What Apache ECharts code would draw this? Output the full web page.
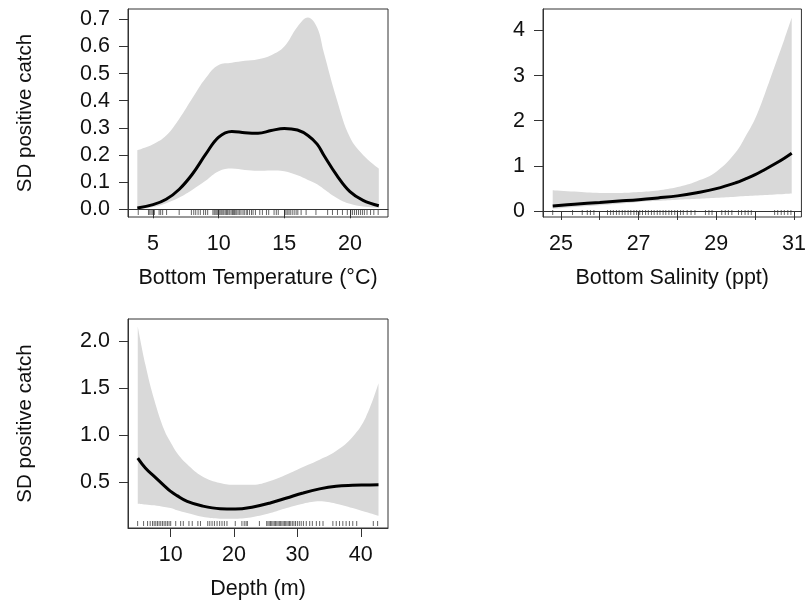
<!DOCTYPE html>
<html>
<head>
<meta charset="utf-8">
<script src="https://cdn.jsdelivr.net/npm/echarts@6.0.0/dist/echarts.min.js"></script>
<style>
  html, body { margin: 0; padding: 0; background: #fff; }
  #chart { width: 809px; height: 601px; }
</style>
</head>
<body>
<div id="chart"></div>
<script>
// Bottom temperature panel
const tempX = [3.8, 5, 6, 7, 8, 9, 10, 11, 12, 13, 14, 15, 16, 16.8, 17.5, 18, 19, 20, 21, 22.2]
const tempFit = [0.005, 0.017, 0.037, 0.074, 0.13, 0.202, 0.266, 0.287, 0.282, 0.28, 0.29, 0.298, 0.292, 0.272, 0.24, 0.2, 0.125, 0.065, 0.033, 0.013]
const tempLower = [0.0, 0.008, 0.022, 0.043, 0.072, 0.105, 0.14, 0.15, 0.145, 0.142, 0.143, 0.14, 0.125, 0.108, 0.092, 0.075, 0.042, 0.02, 0.01, 0.005]
const tempUpper = [0.218, 0.24, 0.272, 0.334, 0.41, 0.483, 0.532, 0.54, 0.547, 0.553, 0.568, 0.6, 0.673, 0.707, 0.67, 0.58, 0.405, 0.265, 0.2, 0.15]
const tempRug = [3.87, 4.65, 4.75, 4.85, 4.98, 5.1, 5.46, 5.58, 5.73, 6.03, 6.99, 7.92, 8.1, 8.25, 8.43, 8.6, 8.85, 9.0, 9.16,
  9.56, 9.65, 9.72, 9.8, 9.88, 9.95, 10.03, 10.1, 10.18, 10.25, 10.33, 10.4, 10.5, 10.6, 10.68, 10.78, 10.85, 10.95, 11.05,
  11.12, 11.2, 11.3, 11.38, 11.48, 11.6, 11.7, 11.85, 11.95, 12.1, 12.2, 12.35, 12.5, 12.62, 12.8,
  13.13, 13.33, 13.64, 13.81, 14.22, 14.39, 14.54, 15.02, 15.12, 15.22, 15.35, 15.45, 15.6, 15.75, 15.9, 16.03,
  16.28, 16.66, 17.41, 18.3, 18.67, 19.05, 19.43, 19.8, 20.06, 20.2, 20.35, 20.5, 20.65, 20.8, 20.95, 21.1, 21.3, 21.57, 21.82, 22.15]
const tempXTicks = [5, 10, 15, 20]
const tempYTicks = [0, 0.1, 0.2, 0.3, 0.4, 0.5, 0.6, 0.7]

// Bottom salinity panel
const salX = [24.79, 25.35, 26, 26.5, 27, 27.5, 28, 28.5, 29, 29.5, 29.75, 30, 30.25, 30.5, 30.75, 30.94]
const salFit = [0.11, 0.15, 0.19, 0.22, 0.25, 0.29, 0.335, 0.405, 0.495, 0.625, 0.71, 0.805, 0.92, 1.04, 1.17, 1.28]
const salLower = [0.05, 0.09, 0.127, 0.16, 0.2, 0.225, 0.248, 0.27, 0.295, 0.318, 0.33, 0.343, 0.355, 0.367, 0.378, 0.386]
const salUpper = [0.46, 0.43, 0.4, 0.4, 0.42, 0.455, 0.53, 0.66, 0.87, 1.3, 1.65, 2.05, 2.6, 3.2, 3.8, 4.28]
const salRug = [24.79, 25.3, 25.55, 25.68, 25.76, 25.85,
  26.2, 26.28, 26.35, 26.43, 26.5, 26.58, 26.65, 26.73, 26.8, 26.88, 26.95, 27.03, 27.1, 27.18, 27.25, 27.33, 27.4,
  27.48, 27.55, 27.63, 27.7, 27.78, 27.85, 27.93, 28.0, 28.08, 28.15, 28.25, 28.35, 28.45,
  28.72, 28.81, 28.89, 29.14, 29.23, 29.31, 29.4, 29.57, 29.65, 29.74, 29.82, 29.9, 30.5, 30.58, 30.67, 30.75, 30.84, 30.92]
const salXTicks = [25, 26, 27, 28, 29, 30, 31]
const salXLabels = [25, 27, 29, 31]
const salYTicks = [0, 1, 2, 3, 4]

// Depth panel
const depthX = [4.8, 6, 7.4, 9, 10, 11, 12.6, 15, 17.8, 20.2, 23, 25.7, 28.3, 30.9, 33.5, 36.1, 38.7, 40.8, 42.8]
const depthFit = [0.755, 0.65, 0.56, 0.46, 0.4, 0.355, 0.294, 0.245, 0.216, 0.213, 0.235, 0.277, 0.33, 0.384, 0.427, 0.455, 0.465, 0.468, 0.47]
const depthLower = [0.27, 0.262, 0.252, 0.235, 0.224, 0.2, 0.17, 0.13, 0.11, 0.11, 0.128, 0.17, 0.224, 0.27, 0.295, 0.27, 0.224, 0.18, 0.14]
const depthUpper = [2.155, 1.75, 1.376, 1.05, 0.92, 0.81, 0.69, 0.56, 0.49, 0.47, 0.47, 0.51, 0.58, 0.66, 0.737, 0.83, 0.98, 1.19, 1.55]
const depthRug = [4.78, 5.72, 6.35, 6.76, 7.13, 7.39, 7.65, 7.91, 8.17, 8.43, 8.7, 8.96, 9.22, 9.48, 9.74, 10.0, 10.79, 11.57,
  11.99, 12.88, 13.4, 14.29, 14.7, 15.85, 16.17, 16.53, 16.9, 17.32, 17.73, 18.1, 18.47, 18.88, 20.19, 21.24, 21.6, 21.9,
  22.1, 24.0, 25.15, 25.35, 25.55, 25.75, 25.95, 26.15, 26.35, 26.55, 26.75, 26.95, 27.15, 27.35, 27.55, 27.75, 27.95,
  28.15, 28.35, 28.55, 28.75, 28.95, 29.2, 29.45, 29.7, 30.0, 30.3, 30.6, 30.95, 31.4, 31.94, 32.36, 32.99, 33.51,
  34.04, 35.6, 36.13, 36.65, 37.17, 37.69, 38.21, 38.74, 39.36, 41.98, 42.66]
const depthXTicks = [10, 20, 30, 40]
const depthYTicks = [0.5, 1.0, 1.5, 2.0]

const yName = 'SD positive catch'
const font = 'Liberation Sans, Arial, sans-serif'
const fs = 21.5

function xAxisCfg(idx, min, max, ticks, labels, name) {
  return {
    type: 'value', gridIndex: idx, min, max, z: 5,
    name, nameLocation: 'middle', nameGap: 50,
    nameTextStyle: { fontFamily: font, fontSize: fs, color: '#111' },
    splitLine: { show: false },
    axisLine: { show: true, lineStyle: { color: '#333', width: 1 } },
    axisTick: { show: true, inside: false, length: 9, customValues: ticks, lineStyle: { color: '#333' } },
    axisLabel: { customValues: labels, margin: 16, fontFamily: font, fontSize: fs, color: '#111' }
  }
}

function yAxisCfg(idx, min, max, ticks, digits, name) {
  return {
    type: 'value', gridIndex: idx, min, max, z: 5,
    name, nameLocation: 'middle', nameGap: 92, nameRotate: 90,
    nameTextStyle: { fontFamily: font, fontSize: 20.5, color: '#111' },
    splitLine: { show: false },
    axisLine: { show: true, lineStyle: { color: '#333', width: 1 } },
    axisTick: { show: true, inside: false, length: 9, customValues: ticks, lineStyle: { color: '#333' } },
    axisLabel: { customValues: ticks, margin: 18, fontFamily: font, fontSize: fs, color: '#111',
      formatter: v => Number(v).toFixed(digits) }
  }
}

// 置信带：下界 + (上界-下界) 堆叠。y 放在第 0 维，这样堆叠的是 y 而不是 x
function bandSeries(idx, xs, lower, upper) {
  const common = { type: 'line', xAxisIndex: idx, yAxisIndex: idx, stack: 'band' + idx,
    encode: { x: 1, y: 0 }, smooth: 0.4, symbol: 'none', lineStyle: { opacity: 0 }, silent: true, z: 1 }
  return [
    { ...common, data: xs.map((x, i) => [lower[i], x]) },
    { ...common, data: xs.map((x, i) => [upper[i] - lower[i], x]),
      areaStyle: { color: '#d9d9d9', opacity: 1 } }
  ]
}

function fitSeries(idx, xs, fit) {
  return { type: 'line', xAxisIndex: idx, yAxisIndex: idx, data: xs.map((x, i) => [x, fit[i]]), smooth: 0.4,
    symbol: 'none', lineStyle: { color: '#000', width: 3 }, silent: true, z: 3 }
}

// 地毯图短线，画在坐标框底边上方
function rugSeries(idx, rug, ymin) {
  return {
    type: 'custom', xAxisIndex: idx, yAxisIndex: idx, silent: true, z: 2,
    data: rug.map(v => [v, ymin]), encode: { x: 0, y: 1 },
    renderItem: (params, api) => {
      const p = api.coord([api.value(0), api.value(1)])
      return { type: 'line', shape: { x1: p[0], y1: p[1] - 2, x2: p[0], y2: p[1] - 7 },
        style: { stroke: '#666', lineWidth: 1 } }
    }
  }
}

const gridBase = { show: true, borderColor: '#333', borderWidth: 1, backgroundColor: 'transparent', containLabel: false }

const chart = echarts.init(document.getElementById('chart'))
chart.setOption({
  animation: false,
  grid: [
    { ...gridBase, left: 128, top: 9, width: 260, height: 208 },
    { ...gridBase, left: 543, top: 9, width: 261, height: 208 },
    { ...gridBase, left: 128, top: 319, width: 260, height: 209 }
  ],
  xAxis: [
    xAxisCfg(0, 3.09, 22.9, tempXTicks, tempXTicks, 'Bottom Temperature (°C)'),
    xAxisCfg(1, 24.54, 31.19, salXTicks, salXLabels, 'Bottom Salinity (ppt)'),
    xAxisCfg(2, 3.26, 44.3, depthXTicks, depthXTicks, 'Depth (m)')
  ],
  yAxis: [
    yAxisCfg(0, -0.0284, 0.738, tempYTicks, 1, yName),
    yAxisCfg(1, -0.133, 4.476, salYTicks, 0, ''),
    yAxisCfg(2, 0.011, 2.234, depthYTicks, 1, yName)
  ],
  series: [
    ...bandSeries(0, tempX, tempLower, tempUpper),
    rugSeries(0, tempRug, -0.0284),
    fitSeries(0, tempX, tempFit),
    ...bandSeries(1, salX, salLower, salUpper),
    rugSeries(1, salRug, -0.133),
    fitSeries(1, salX, salFit),
    ...bandSeries(2, depthX, depthLower, depthUpper),
    rugSeries(2, depthRug, 0.011),
    fitSeries(2, depthX, depthFit)
  ]
})
</script>
</body>
</html>
